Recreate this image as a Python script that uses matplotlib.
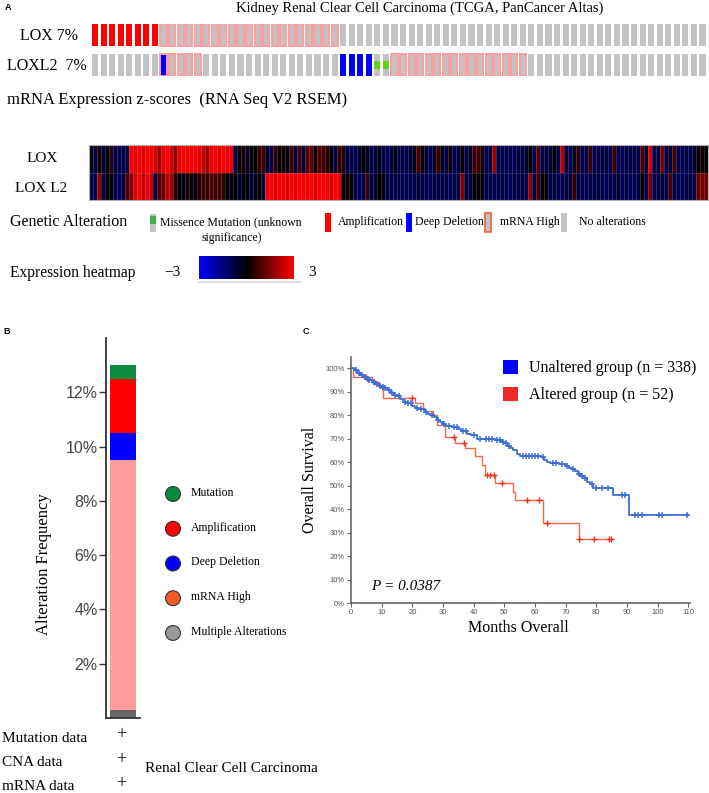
import numpy as np
import matplotlib
matplotlib.use('Agg')
import matplotlib.pyplot as plt
from matplotlib.patches import Rectangle
from matplotlib.colors import LinearSegmentedColormap, Normalize
from matplotlib.cm import ScalarMappable

# ---- data ----
# oncoprint, runs of (alteration, number of cases)
lox_runs = [('amp', 8), ('high', 21), ('none', 43)]
loxl2_runs = [('none', 8), ('del_high', 1), ('high', 4), ('none', 16),
              ('del', 4), ('mut', 2), ('high', 16), ('none', 21)]

# mRNA z-scores per case (heatmap columns)
lox_expr = [0, -0.8, 0.4, -0.8, 0, 0.5, -0.9, -0.8, -0.9, -0.8,
            3, 2.8, 3, 2.7, 3, 2.9, 2.6, 1.8, 2.7, 3,
            2.5, 1.6, 2.8, 3, 3, 2.9, 3, 2.7, 2.4, 1.7,
            2.8, 3, 2.6, 3, 2.8, 2.9,
            -0.9, 0.1, 0.3, -0.5, 0.2, 0, 0.6, 0.8, -0.6, -0.9,
            0.7, 0, 0.3, -0.2, 0.8, -0.8,
            0.8, -0.8, 0.9, 1.2, 0, 1.0, 0.8, 0.5, 0, -0.9,
            0.7, 0.4,
            -0.8, -1, -1, -0.5, 0, -0.3, -0.9, -0.8, -0.2, -0.9, -1, -0.7, -0.3, -0.9, -0.8, -0.9, -0.6,
            -0.4, 0.9, 0, -0.7, -0.9, -0.5, 0.7, -0.3, -0.8, 0.2, -0.9, -0.8, 0.1, -0.9,
            -0.4, 0.8, 0.7, 0.3, -0.9, -0.8, 1.8, -0.9, -0.9,
            -0.9, -0.8, -1, -0.7, -0.9, -0.5, 0, -0.8, 1.0, -0.9,
            -0.8, -0.6, 0, -0.9, 2.2, -0.7, -0.9, -0.4, 0.6, -0.9,
            -0.8, 0.7, -1, -0.9, -0.6, -0.8, -0.9, 0.7, -0.8, -1,
            -0.9, -0.7, -0.9, -0.8, 0.9, -0.6, 2.5, -0.9, -0.8, 1.4,
            -0.9, -0.7, 0.8, -0.9, -1, -0.8, -0.9, -0.6, 0.1, 0.2, 0]
loxl2_expr = [-0.8, -0.9, 1.8, -0.8, 0, 0, -0.9, -1, -0.8, 0.8,
              1.5, 2.5, 3, 2.2, 2.8, 2.4, -0.8, 0.9, 1.2, 2.2,
              2.0, 0.5, 0, -0.3, 0.3, 0.2, -0.2, 0.4, 0.8, 0.6,
              1.0, 0.7, 0.9, 0.5, 0, -0.3, 0, -0.6, -0.2, 0,
              -0.8, -0.4, 0, -0.6, 2.8, 3, 2.7, 3, 2.9, 2.6,
              3, 2.8, 3, 3, 2.8, 3, 2.7, 3, 3, 2.9,
              2.6, 3, 2.8,
              0.2, 0, 0.1, -0.9, -0.9, -0.9, 0.7, -0.8, -0.5, 0, 0.1,
              -0.9, -0.8, -1, -0.7, -0.9, -1.1, -0.8, -0.9, -0.6, -0.9, -0.8, -1, -0.9, -0.7, -0.9, -0.8, -1, -0.9, -0.8,
              1.5, -0.7, -0.8, 0, -0.2, 0.1, -0.9, -0.8, -1, -0.9, -0.8,
              -0.9, -1, -0.8, -0.9, -0.7, -0.9, 1.8, -0.8, 0.8, 0,
              0.1, -0.9, -0.8, -1, -0.9, -0.8, -0.7, 0.6, -0.9, -0.8,
              -1, -0.9, -0.8, -0.7, -0.9, -1, -0.8, -0.9, -0.6, -0.9,
              -0.8, -1, -0.9, -0.8, 0, -0.7, 1.4, -0.9, -0.8, -0.6,
              -0.9, 0.8, -0.9, -1, -0.8, -0.9, -0.7, -0.8, 1.2, 1.4, 1.3]

# panel B: stacked alteration frequency (%), bottom to top
freq_labels = ['Multiple Alterations', 'mRNA High', 'Deep Deletion', 'Amplification', 'Mutation']
freq_values = [0.3, 9.2, 1.0, 2.0, 0.5]
freq_colors = ['#666666', '#ff9c9c', '#0000ff', '#ff0000', '#0a8a3c']
legend_labels = ['Mutation', 'Amplification', 'Deep Deletion', 'mRNA High', 'Multiple Alterations']
legend_colors = ['#0a8a3c', '#ff0000', '#0000ff', '#f05a28', '#999999']

# panel C: Kaplan-Meier step curves (months, % surviving)
blue_t = [0, 1, 2, 3, 4, 5, 6, 7, 8, 9, 10, 11, 12, 13, 14, 15, 16, 17, 18,
          20, 21, 22, 24, 25, 26, 27, 28, 29, 30, 31, 33, 35, 36, 38, 39, 41,
          47, 49, 50, 51, 52, 53, 54, 55,
          62, 63, 64, 65, 68, 70, 71, 72, 73, 74, 75, 76, 77, 78, 79, 85.5, 90.8]
blue_s = [100, 99, 98, 97, 96, 95.5, 95, 94, 93, 92.5, 92, 91.5, 90.5, 89.5, 88.5, 88, 87, 85.5, 85,
          84, 83, 82.5, 81.5, 80.5, 80, 79, 78, 77, 76, 75.5, 75, 74, 73, 72, 71.5, 70,
          69.5, 68.5, 68, 67, 66, 65, 63.5, 62.5,
          62, 61, 60, 59.5, 59, 58.5, 57.5, 57, 56, 55, 54, 53, 51.5, 50.5, 49, 46, 37.5]
blue_end = 110
blue_cens = [1.5, 2.5, 3.5, 4.5, 5.5, 6, 7.5, 8.5, 9.5, 10.5, 11, 12.5, 13.5, 14.5, 15.5,
             17.5, 18.5, 19.5, 21.5, 23, 24.5, 26.5, 28.5, 30.5, 32, 33.5, 34.5, 36.5, 37.5,
             40, 42, 44, 45, 46, 47.5, 48.5, 49.5, 50.5, 51.5, 56, 57, 58, 59, 60, 61, 62.5,
             66, 67, 69, 70.5, 72.5, 74.5, 75.5, 76.5, 78.5, 80, 82, 84, 88.5, 89.5,
             92.5, 93.5, 95, 100.5, 101.5, 109.5]
red_t = [0, 0.5, 6.8, 9, 10.6, 20.9, 23.6, 26.9, 28, 30.7, 34, 37.3, 40.5, 42.7, 43.8,
         47, 52.8, 53.6, 62.8, 74.3]
red_s = [100, 96.3, 94.2, 92, 87.1, 85, 81.8, 80, 75.7, 70.8, 68, 65.8, 62.6, 58.7, 54.5,
         51.2, 47.4, 43.8, 33.9, 27.1]
red_end = 85.2
red_cens = [4.9, 7.5, 10, 19.9, 33.5, 37, 44.3, 45.4, 46.5, 49.2, 57.4, 61.2, 63.9,
            74.5, 79.4, 84.1, 84.8]

W, H = 709, 793
SERIF = 'Liberation Serif'
SANS = 'Liberation Sans'


def box(l, t, r, b):
    return [l / W, 1 - b / H, (r - l) / W, (b - t) / H]


fig = plt.figure(figsize=(W / 100, H / 100), dpi=100)
ov = fig.add_axes([0, 0, 1, 1])
ov.set_xlim(0, W)
ov.set_ylim(H, 0)
ov.axis('off')


def txt(x, y, s, size=11, family=SERIF, **kw):
    kw.setdefault('va', 'center')
    ov.text(x, y, s, fontsize=size, family=family, **kw)


# ---- panel A ----
txt(8, 8, 'A', 6.5, SANS, weight='bold', ha='center')
txt(420, 8, 'Kidney Renal Clear Cell Carcinoma (TCGA, PanCancer Altas)', 10.5, ha='center')
txt(20, 36, 'LOX 7%', 11.5)
txt(7, 66, 'LOXL2  7%', 11.5)
txt(7, 100, 'mRNA Expression z-scores  (RNA Seq V2 RSEM)', 12)

GRAY = '#c3c3c3'
PINK = '#ff9f9f'
cw, ch = 0.72, 0.733
n_cases = sum(n for _, n in lox_runs)
onc = fig.add_axes(box(92, 24, 708, 76))
onc.set_xlim(0, n_cases)
onc.set_ylim(1 + ch, 0)
onc.axis('off')
for r, runs in enumerate([lox_runs, loxl2_runs]):
    i = 0
    for kind, n in runs:
        for _ in range(n):
            if kind == 'amp':
                onc.add_patch(Rectangle((i, r), cw, ch, fc='#ff0000', ec='none'))
            elif kind == 'del':
                onc.add_patch(Rectangle((i, r), cw, ch, fc='#0000ff', ec='none'))
            elif kind == 'high':
                onc.add_patch(Rectangle((i, r), cw, ch, fc=GRAY, ec=PINK, lw=1.4))
            elif kind == 'del_high':
                onc.add_patch(Rectangle((i, r), cw, ch, fc='#0000ff', ec=PINK, lw=1.4))
            elif kind == 'mut':
                onc.add_patch(Rectangle((i, r), cw, ch, fc=GRAY, ec='none'))
                onc.add_patch(Rectangle((i, r + ch / 3), cw, ch / 3, fc='#5ad21e', ec='none'))
            else:
                onc.add_patch(Rectangle((i, r), cw, ch, fc=GRAY, ec='none'))
            i += 1

# expression heatmap
cmap = LinearSegmentedColormap.from_list('bkr', ['#0000ff', '#000000', '#ff0000'])
norm = Normalize(-3, 3)
txt(27, 159, 'LOX', 11)
txt(15, 188, 'LOX L2', 11)
hm = fig.add_axes(box(89, 145, 708, 200))
hm.pcolormesh(np.array([lox_expr, loxl2_expr]), cmap=cmap, norm=norm,
              edgecolors=(0.75, 0.75, 0.85, 0.22), linewidth=0.4)
hm.set_ylim(2, 0)
hm.set_xticks([])
hm.set_yticks([])
for sp in hm.spines.values():
    sp.set_color('#b0b0b0')
    sp.set_linewidth(0.8)

# genetic alteration legend
txt(10, 222, 'Genetic Alteration', 11.5)
ov.add_patch(Rectangle((150, 214), 6, 18, fc=GRAY, ec='none'))
ov.add_patch(Rectangle((150, 216), 6, 8, fc='#3cb44b', ec='none'))
txt(160, 222, 'Missence Mutation (unknown', 8.5)
txt(232, 238, 'significance)', 8.5, ha='center')
ov.add_patch(Rectangle((325, 213), 6, 19, fc='#ff0000', ec='none'))
txt(338, 222, 'Amplification', 8.5)
ov.add_patch(Rectangle((406, 213), 6, 19, fc='#0000ff', ec='none'))
txt(415, 222, 'Deep Deletion', 8.5)
ov.add_patch(Rectangle((485, 213), 6, 19, fc=GRAY, ec='#e8643c', lw=1.2))
txt(500, 222, 'mRNA High', 8.5)
ov.add_patch(Rectangle((561, 213), 6, 19, fc=GRAY, ec='none'))
txt(579, 222, 'No alterations', 8.5)

txt(10, 273, 'Expression heatmap', 11.2)
txt(172, 273, '\u22123', 11, ha='center')
txt(312, 273, '3', 11, ha='center')
cax = fig.add_axes(box(199, 256, 294, 279))
cb = fig.colorbar(ScalarMappable(norm=norm, cmap=cmap), cax=cax, orientation='horizontal')
cb.set_ticks([])
cb.outline.set_visible(False)
ov.plot([199, 300], [282, 282], color='#dddddd', lw=1.5)

# ---- panel B ----
txt(7, 331, 'B', 6.5, SANS, weight='bold', ha='center')
axb = fig.add_axes(box(106, 338, 140, 718))
axb.patch.set_visible(False)
bottom = 0
for v, c in zip(freq_values, freq_colors):
    axb.bar(0, v, bottom=bottom, width=1.0, color=c, edgecolor='none')
    bottom += v
axb.set_xlim(-0.65, 0.65)
axb.set_ylim(0, 14)
axb.set_xticks([])
yt = [2, 4, 6, 8, 10, 12]
axb.set_yticks(yt)
axb.set_yticklabels([f'{v}%' for v in yt], family=SANS, fontsize=11.5, color='#444444')
axb.tick_params(axis='y', length=5, width=1, color='#333333', pad=1)
for s in ['top', 'right']:
    axb.spines[s].set_visible(False)
for s in ['left', 'bottom']:
    axb.spines[s].set_color('#333333')
    axb.spines[s].set_linewidth(1.3)
txt(44, 564, 'Alteration Frequency', 12, rotation=90, ha='center')

ly = [494 + 34.75 * k for k in range(len(legend_labels))]
ov.scatter([173] * len(ly), ly, s=115, c=legend_colors, edgecolors='#333333', linewidths=0.8, zorder=3)
for y, lab in zip(ly, legend_labels):
    txt(191, y - 1, lab, 8.5)

for y, lab in zip([738, 763, 787], ['Mutation data', 'CNA data', 'mRNA data']):
    txt(2, y, lab, 11)
    txt(121, y - 3, '+', 13, ha='center')
txt(145, 768, 'Renal Clear Cell Carcinoma', 11)

# ---- panel C ----
txt(306, 331, 'C', 6.5, SANS, weight='bold', ha='center')
axc = fig.add_axes(box(351, 357, 690, 603))
axc.patch.set_visible(False)


def surv_at(ts, ss, c):
    return ss[np.searchsorted(ts, c, side='right') - 1]


bt = np.append(blue_t, blue_end)
bs = np.append(blue_s, blue_s[-1])
rt = np.append(red_t, red_end)
rs = np.append(red_s, red_s[-1])
axc.step(rt, rs, where='post', color='#f06a4a', lw=1.0)
axc.plot(red_cens, [surv_at(rt, rs, c) for c in red_cens], '+', color='#e8341c', ms=4, mew=1)
axc.step(bt, bs, where='post', color='#3b6fd6', lw=1.3)
axc.plot(blue_cens, [surv_at(bt, bs, c) for c in blue_cens], '+', color='#3b6fd6', ms=4, mew=1.1)
axc.set_xlim(0, 110.6)
axc.set_ylim(0, 104.7)
axc.set_xticks(range(0, 111, 10))
axc.set_yticks(range(0, 101, 10))
axc.set_yticklabels([f'{v}%' for v in range(0, 101, 10)])
axc.tick_params(length=3, width=0.8, color='#666666', labelsize=5.5, labelcolor='#555555', pad=1.5)
for lab in axc.get_xticklabels() + axc.get_yticklabels():
    lab.set_family(SANS)
for s in ['top', 'right']:
    axc.spines[s].set_visible(False)
for s in ['left', 'bottom']:
    axc.spines[s].set_color('#666666')
    axc.spines[s].set_linewidth(1.2)

txt(310, 480, 'Overall Survival', 11.5, rotation=90, ha='center')
txt(518, 628, 'Months Overall', 11.5, ha='center')
txt(371, 586, 'P = 0.0387', 11, style='italic')
ov.add_patch(Rectangle((503, 360), 15, 14, fc='#0000ff', ec='none'))
txt(529, 368, 'Unaltered group (n = 338)', 11.5)
ov.add_patch(Rectangle((503, 387), 15, 14, fc='#ee2a2a', ec='none'))
txt(529, 395, 'Altered group (n = 52)', 11.5)

fig.savefig('out.png', dpi=100)
